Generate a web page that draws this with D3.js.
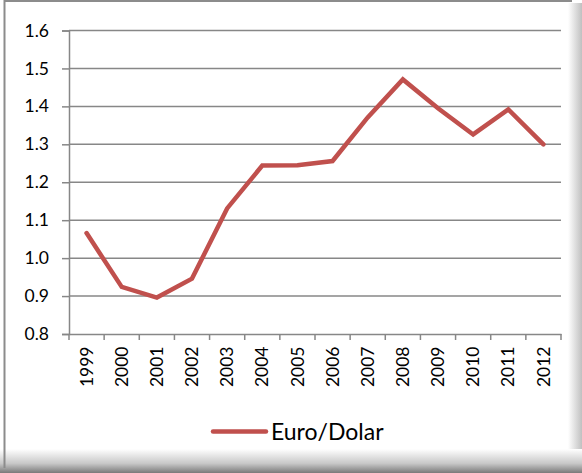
<!DOCTYPE html>
<html><head><meta charset="utf-8">
<script src="https://cdn.jsdelivr.net/npm/d3@7"></script>
<style>body{margin:0;background:#fff}svg{display:block}</style>
</head><body>
<script>
const years = ["1999","2000","2001","2002","2003","2004","2005","2006","2007","2008","2009","2010","2011","2012"];
const euroDolar = [1.066, 0.924, 0.896, 0.946, 1.131, 1.244, 1.245, 1.256, 1.371, 1.471, 1.395, 1.326, 1.392, 1.300];
const yTicks = [0.8, 0.9, 1.0, 1.1, 1.2, 1.3, 1.4, 1.5, 1.6];
const seriesName = "Euro/Dolar";

const W = 582, H = 473;
const svg = d3.select("body").append("svg").attr("width", W).attr("height", H);
const defs = svg.append("defs");
const gb = defs.append("linearGradient").attr("id","gb").attr("x1",0).attr("y1",0).attr("x2",0).attr("y2",1);
gb.append("stop").attr("offset","0%").attr("stop-color","#fff");
gb.append("stop").attr("offset","60%").attr("stop-color","#c8c8c8");
gb.append("stop").attr("offset","100%").attr("stop-color","#7a7a7a");
const gr = defs.append("linearGradient").attr("id","gr").attr("x1",0).attr("y1",0).attr("x2",1).attr("y2",0);
gr.append("stop").attr("offset","0%").attr("stop-color","#fff");
gr.append("stop").attr("offset","100%").attr("stop-color","#c0c0c0");

svg.append("rect").attr("width",W).attr("height",H).attr("fill","#fff");
svg.append("rect").attr("x",568).attr("y",3).attr("width",14).attr("height",H).attr("fill","url(#gr)");
svg.append("rect").attr("x",0).attr("y",449).attr("width",W).attr("height",24).attr("fill","url(#gb)");
// frame borders
svg.append("line").attr("x1",4.5).attr("x2",4.5).attr("y1",0).attr("y2",468).attr("stroke","#8c8c8c").attr("stroke-width",2);
svg.append("line").attr("x1",4).attr("x2",572).attr("y1",1).attr("y2",1).attr("stroke","#8c8c8c").attr("stroke-width",2);

const m = {l:69, r:561, t:30.5, b:334};
const x = d3.scaleBand().domain(years).range([m.l, m.r]).padding(0);
const y = d3.scaleLinear().domain([0.8, 1.6]).range([m.b, m.t]);
const font = "Lato, 'Open Sans', sans-serif";

// gridlines
svg.append("g").selectAll("line").data(yTicks.slice(1)).join("line")
  .attr("x1", m.l).attr("x2", m.r)
  .attr("y1", d => y(d)).attr("y2", d => y(d))
  .attr("stroke","#878787").attr("stroke-width",1.5);

// y axis
const yAxis = svg.append("g").attr("transform",`translate(${m.l},0)`)
  .call(d3.axisLeft(y).tickValues(yTicks).tickFormat(d3.format(".1f")).tickSize(7).tickPadding(13));
yAxis.select(".domain").attr("stroke","#878787").attr("stroke-width",1.5);
yAxis.selectAll(".tick line").attr("stroke","#878787").attr("stroke-width",1.5);
yAxis.selectAll("text").attr("font-family",font).attr("font-size",17.5).attr("fill","#000");

// x axis
const xAxis = svg.append("g").attr("transform",`translate(0,${m.b})`)
  .call(d3.axisBottom(x).tickSize(0).tickPadding(0));
xAxis.select(".domain").attr("stroke","#878787").attr("stroke-width",1.5);
xAxis.selectAll(".tick line").remove();
// tick marks at category boundaries
const bounds = years.map(d => x(d)).concat([m.r]);
xAxis.selectAll(".bt").data(bounds).join("line").attr("class","bt")
  .attr("x1", d => d).attr("x2", d => d).attr("y1",0).attr("y2",6)
  .attr("stroke","#878787").attr("stroke-width",1.5);
xAxis.selectAll(".tick text")
  .attr("font-family",font).attr("font-size",17.5).attr("fill","#000")
  .attr("text-anchor","end").attr("dy","0.35em")
  .attr("transform","translate(0,12.5) rotate(-90)")
  .attr("x",0).attr("y",0);

// line
const line = d3.line().x((d,i) => x(years[i]) + x.bandwidth()/2).y(d => y(d));
svg.append("path").datum(euroDolar).attr("d", line)
  .attr("fill","none").attr("stroke","#C0504D").attr("stroke-width",4.5)
  .attr("stroke-linejoin","miter").attr("stroke-linecap","round");

// legend
const lg = svg.append("g");
lg.append("line").attr("x1",213).attr("x2",266).attr("y1",431.5).attr("y2",431.5)
  .attr("stroke","#C0504D").attr("stroke-width",4.5).attr("stroke-linecap","round");
lg.append("text").attr("x",271).attr("y",431.5).attr("dy","0.35em")
  .attr("font-family",font).attr("font-size",23).attr("fill","#000").text(seriesName);
</script>
</body></html>
